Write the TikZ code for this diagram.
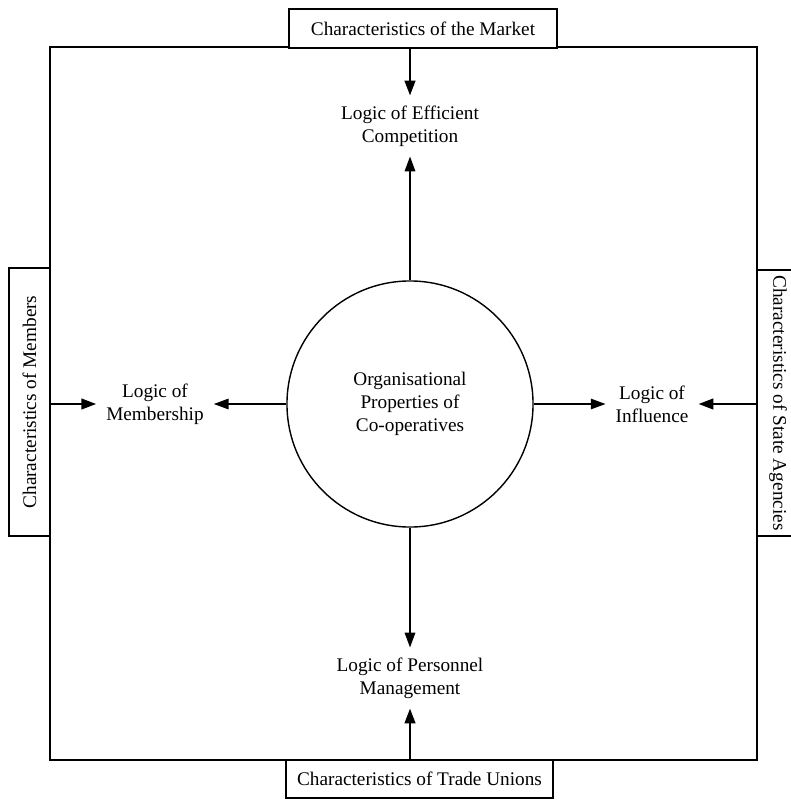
\documentclass[tikz,border=0pt]{standalone}
\usepackage{fontspec}
\setmainfont{Liberation Serif}
\usetikzlibrary{arrows.meta}
\tikzset{
  charbox/.style={draw,line width=1.1pt,inner sep=0pt,minimum height=0.98cm,minimum width=6.7cm},
  logic/.style={align=center,inner sep=7pt},
  props/.style={draw,circle,line width=1pt,align=center,minimum size=6.15cm},
}
\begin{document}
\begin{tikzpicture}[x=0.025cm,y=-0.025cm,font=\fontsize{13.7}{16.4}\selectfont,
    >={Triangle[length=10.5pt,width=7.5pt]}]
      \useasboundingbox (0,0) rectangle (790,800);
      \draw[line width=1.2pt] (50,47) rectangle (757,760);
      \draw
        (410,404) node[props] (coops){Organisational\\Properties of\\Co-operatives}
        (410,126) node[logic] (competition){Logic of Efficient\\Competition}
        (155,404) node[logic] (membership){Logic of\\Membership}
        (652,404) node[logic] (influence){Logic of\\Influence}
        (410,678) node[logic] (personnel){Logic of Personnel\\Management};
      \draw
        (423,28.5) node[charbox,fill=white] (market){Characteristics of the Market}
        (419.5,779) node[charbox,minimum width=6.68cm,minimum height=0.95cm,fill=white] (unions){Characteristics of Trade Unions}
        (29.5,402) node[charbox,rotate=90,minimum height=1.025cm,fill=white] (members){Characteristics of Members}
        (778,403) node[charbox,rotate=-90,minimum width=6.65cm,minimum height=1.05cm,fill=white] (agencies){Characteristics of State Agencies};
      \begin{scope}[->,line width=1pt]
        \draw (coops.north) to (coops |- competition.south);
        \draw (coops.west) to (membership.east);
        \draw (coops.east) to (influence.west);
        \draw (coops.south) to (coops |- personnel.north);
      \end{scope}
      \begin{scope}[->,line width=1.6pt]
        \draw (coops |- market.south) to (coops |- competition.north);
        \draw (members.south |- membership) to (membership.west);
        \draw (agencies.south |- influence) to (influence.east);
        \draw (coops |- unions.north) to (coops |- personnel.south);
      \end{scope}
    \end{tikzpicture}
\end{document}
